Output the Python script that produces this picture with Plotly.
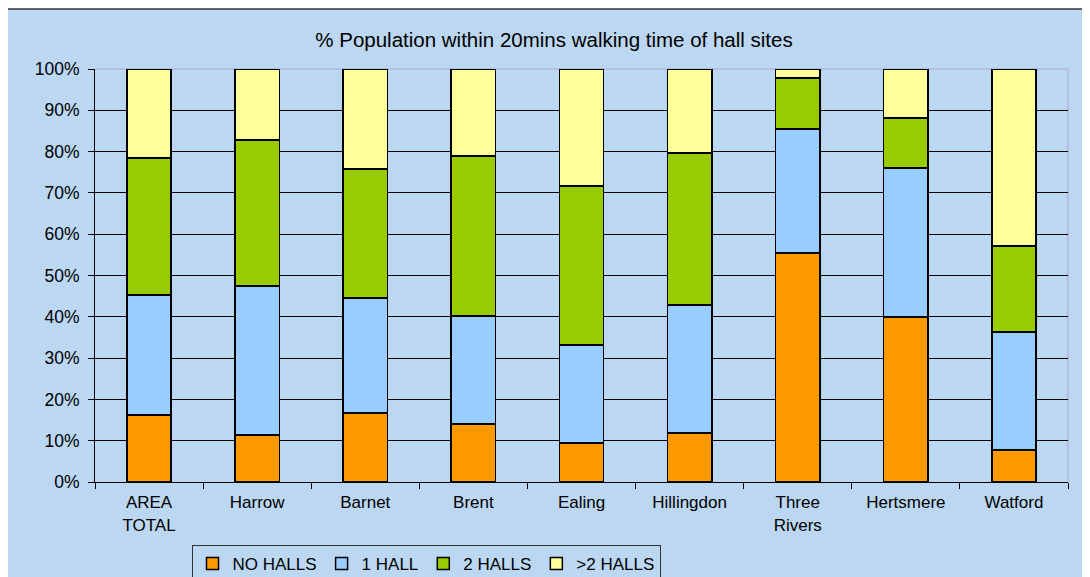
import plotly.graph_objects as go

# categories and stacked shares (% of population)
areas = ["AREA<br>TOTAL", "Harrow", "Barnet", "Brent", "Ealing",
         "Hillingdon", "Three<br>Rivers", "Hertsmere", "Watford"]
no_halls = [16.2, 11.4, 16.7, 14.0, 9.4, 11.9, 55.4, 40.0, 7.7]
one_hall = [29.1, 36.1, 27.9, 26.2, 23.8, 31.0, 30.1, 36.0, 28.6]
two_halls = [33.2, 35.3, 31.2, 38.7, 38.5, 36.8, 12.3, 12.1, 20.8]
more_halls = [21.5, 17.2, 24.2, 21.1, 28.3, 20.3, 2.2, 11.9, 42.9]
y_ticks = [0, 10, 20, 30, 40, 50, 60, 70, 80, 90, 100]
y_tick_labels = ["0%", "10%", "20%", "30%", "40%", "50%",
                 "60%", "70%", "80%", "90%", "100%"]

series = [
    ("NO HALLS", no_halls, "#FF9900"),
    ("1 HALL", one_hall, "#99CCFF"),
    ("2 HALLS", two_halls, "#99CC00"),
    (">2 HALLS", more_halls, "#FFFF99"),
]

BG = "#BCD7F2"
FONT = "Liberation Sans, Arial, sans-serif"

fig = go.Figure()
for name, vals, col in series:
    fig.add_trace(
        go.Bar(
            x=areas,
            y=vals,
            name=name,
            marker=dict(color=col, line=dict(color="black", width=1.5)),
        )
    )

# the page body has an 8px margin, so the figure sits at (8, 8) in the window
OFF = 8
W, H = 1090 - OFF, 577 - OFF
ml, mr, mt, mb = 95 - OFF, 22, 69 - OFF, 95
pw, ph = W - ml - mr, H - mt - mb


def px_x(x):
    # window pixel -> paper x
    return (x - OFF - ml) / pw


def px_y(y):
    # window pixel -> paper y
    return (H - mb - (y - OFF)) / ph


# outer chart box (blue, dark border), cut off at right/bottom like the source
fig.add_shape(
    type="rect", xref="paper", yref="paper", layer="below",
    x0=px_x(7), x1=px_x(1100), y0=px_y(590), y1=px_y(9),
    fillcolor=BG, line=dict(color="#333333", width=1.5),
)
# light purple top / right plot border
fig.add_shape(
    type="line", xref="paper", yref="paper", layer="below",
    x0=0, x1=1, y0=1, y1=1, line=dict(color="#B4B4DC", width=1.5),
)
fig.add_shape(
    type="line", xref="paper", yref="paper", layer="below",
    x0=1, x1=1, y0=0, y1=1, line=dict(color="#B4B4DC", width=1.5),
)

fig.update_layout(
    width=W,
    height=H,
    barmode="stack",
    bargap=0.59,
    paper_bgcolor="white",
    plot_bgcolor=BG,
    margin=dict(l=ml, r=mr, t=mt, b=mb, autoexpand=False),
    font=dict(family=FONT, size=17, color="black"),
    title=dict(
        text="% Population within 20mins walking time of hall sites",
        font=dict(family=FONT, size=20.5, color="black"),
        xref="container", x=(554 - OFF) / W, xanchor="center",
        yref="container", y=1 - (40 - OFF) / H, yanchor="middle",
    ),
    legend=dict(
        orientation="h",
        xref="paper", x=px_x(426), xanchor="center",
        yref="paper", y=px_y(545), yanchor="top",
        bgcolor=BG,
        bordercolor="#333333",
        borderwidth=1,
        font=dict(family=FONT, size=17, color="black"),
        itemwidth=30,
        traceorder="normal",
    ),
    showlegend=True,
)

fig.update_xaxes(
    type="category",
    tickson="boundaries",
    ticks="outside",
    ticklen=6,
    tickcolor="black",
    showline=True,
    linecolor="black",
    linewidth=1,
    showgrid=False,
    automargin=False,
    ticklabelstandoff=5,
    tickfont=dict(family=FONT, size=17, color="black"),
)
fig.update_yaxes(
    range=[0, 100],
    tickmode="array",
    tickvals=y_ticks,
    ticktext=y_tick_labels,
    ticks="outside",
    ticklen=6,
    tickcolor="black",
    showline=True,
    linecolor="black",
    linewidth=1,
    showgrid=True,
    gridcolor="black",
    gridwidth=1,
    zeroline=False,
    automargin=False,
    ticklabelstandoff=5,
    tickfont=dict(family=FONT, size=17.5, color="black"),
)

fig.write_html("out.html")
